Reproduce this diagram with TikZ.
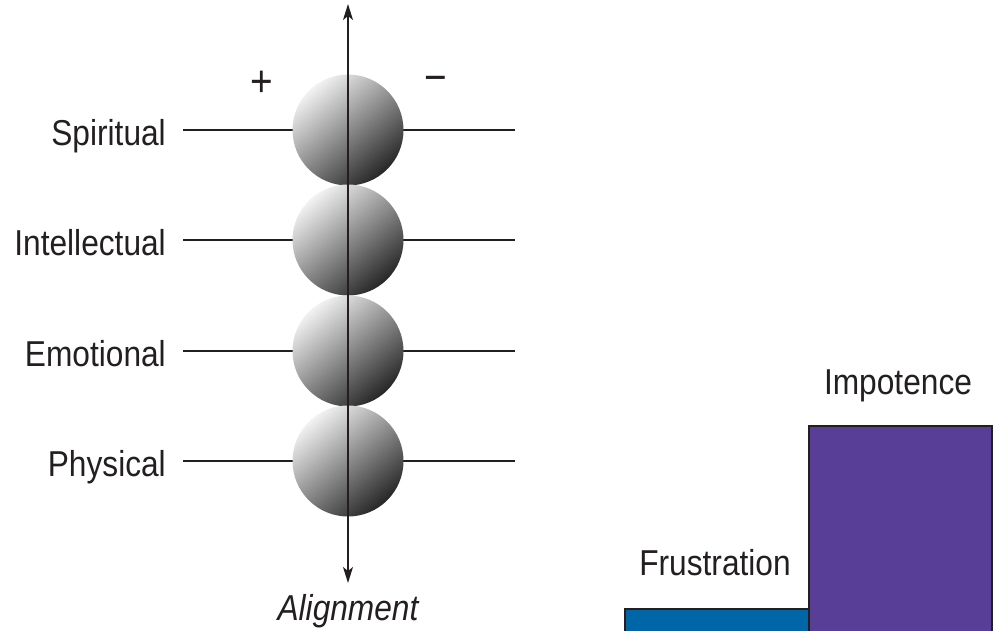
\documentclass[tikz,border=0pt]{standalone}
\usepackage{fontspec}
\setmainfont{Liberation Sans}[FakeStretch=0.88]
\usetikzlibrary{arrows.meta}
\definecolor{barblue}{HTML}{0066A8}
\definecolor{barpurple}{HTML}{583E96}
\definecolor{linegray}{HTML}{231F20}
\begin{document}
\begin{tikzpicture}[x=1pt,y=-1pt,
  lbl/.style={font=\fontsize{36}{40}\selectfont, text=linegray, inner sep=0pt},
  sign/.style={font=\fontsize{44}{48}\selectfont, text=linegray, inner sep=0pt},
  hline/.style={draw=linegray, line width=1.4pt},
  ball/.style={circle, minimum size=111pt, inner sep=0pt, draw=none,
     top color=black!5, bottom color=black!85, shading angle=40},
  bar/.style={draw=linegray, line width=1.5pt, inner sep=0pt, anchor=north west}]
\useasboundingbox (0,0) rectangle (996,630);
% horizontal lines and spheres
\foreach \i/\y in {1/130,2/240,3/351,4/461}{
  \coordinate (l\i) at (183,\y);
  \coordinate (r\i) at (515,\y);
  \draw[hline] (l\i) -- (r\i);
  \node[ball] (s\i) at (348,\y) {};
}
% labels
\node[lbl, anchor=base east] (t1) at (166,145) {Spiritual};
\node[lbl, anchor=base east] (t2) at (166,255) {Intellectual};
\node[lbl, anchor=base east] (t3) at (166,366) {Emotional};
\node[lbl, anchor=base east] (t4) at (166,476) {Physical};
% axis
\coordinate (atop) at (348,4);
\coordinate (abot) at (348,583);
\draw[line width=1.6pt, draw=linegray, {Stealth[length=16pt,width=10pt,inset=4pt]}-{Stealth[length=16pt,width=10pt,inset=4pt]}] (abot) -- (atop);
\node[lbl, font=\fontsize{36}{40}\selectfont\itshape, anchor=base] (al) at (348,620) {Alignment};
\node[sign, anchor=center] (plus) at (262,84) {+};
\node[sign, anchor=center] (minus) at (436,84) {−};
% bars
\node[bar, fill=barblue, minimum width=184pt, minimum height=40pt] (b1) at (624,608) {};
\node[bar, fill=barpurple, minimum width=183pt, minimum height=230pt] (b2) at (808,425) {};
\node[lbl, anchor=base] (fr) at (715,575) {Frustration};
\node[lbl, anchor=base] (im) at (898,394) {Impotence};
\end{tikzpicture}
\end{document}
